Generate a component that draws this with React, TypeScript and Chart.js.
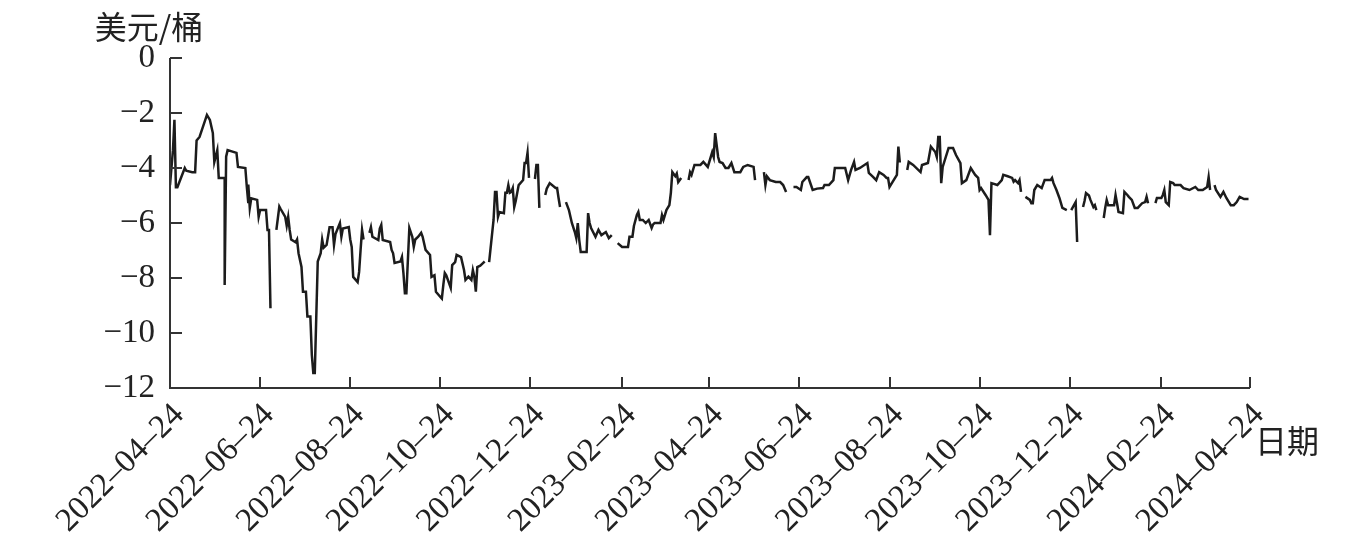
import React, { useEffect, useRef } from 'react';
import { Chart, registerables } from 'chart.js';

Chart.register(...registerables);

// Day offset from 2022-04-24 and the price spread (USD/barrel); null marks a gap in the record
const days: number[] = [
  0, 2, 3, 4, 5, 10, 11, 15, 17, 18, 20, 25, 27, 29, 30, 32, 33, 37, 37, 38, 39, 45, 46, 51, 52, 53, 53, 54, 55, 59, 60, 61, 65, 66, 67, 68, 70,
  72, 74, 75, 78, 79, 80, 81, 82, 85, 86, 87, 89, 90, 92, 93, 95, 96, 97, 98, 100, 102, 103, 104, 106, 108, 110, 111, 112, 115, 116, 117, 121, 122, 123, 124, 127, 128, 129, 130, 131, 133,
  135, 136, 137, 141, 142, 143, 144, 149, 150, 151, 152, 156, 157, 158, 159, 160, 162, 164, 165, 166, 168, 170, 171, 173, 176, 177, 179, 180, 183, 184, 185, 186, 187, 190, 191, 193, 194, 197, 199, 200, 202, 204, 205, 206, 207, 208, 210, 212, 213, 215,
  216, 219, 220, 221, 222, 223, 226, 227, 228, 229, 230, 231, 232, 233, 234, 236, 239, 240, 241, 242, 243, 245,
  247, 248, 249, 250, 252,
  254, 255, 257, 261, 262, 263, 264, 266,
  268, 270, 272, 274, 275, 276, 277, 278, 282, 283, 284, 285, 288, 290, 292, 295, 297, 299, 301,
  303, 306, 310, 311, 313, 314, 316, 317, 318, 320, 322, 324, 326, 327, 328, 332, 333, 334, 336, 338, 339, 340, 342, 343, 344, 346, 348,
  351, 352, 353, 355, 359, 361, 364, 367, 368, 369, 371, 372, 374, 376, 378, 380, 382, 386, 388, 391, 395, 396, 399,
  402, 403, 404, 406, 410, 413, 415, 417, 420,
  422, 424, 427, 428, 431, 432, 435, 438, 442, 443, 446, 449, 450, 451, 457, 459, 461, 463, 464, 467, 472, 473, 476, 478, 480, 483, 485, 486, 487, 489, 492, 493, 494, 497,
  499, 500, 503, 508, 509, 513, 515, 518, 519, 520, 521, 522, 523, 527, 530, 532, 535, 536, 539, 542, 545, 547, 548, 549, 552, 554, 555, 556, 560, 563, 564, 567, 570, 571, 572, 574, 575, 576, 578,
  579, 582, 583, 584, 585, 587, 590, 592, 596, 597, 598, 600, 602, 604, 607, 609,
  610, 613, 614, 616,
  618, 619, 620, 622, 623, 625, 626, 627, 630,
  632, 633, 634, 635, 639, 640, 641, 642, 645, 646, 648, 649, 651, 653, 655, 658, 660, 661, 662, 665,
  667, 668, 671, 672, 673, 674, 676, 677, 679, 680, 684, 686, 690, 694, 696, 699, 702, 703, 704, 706,
  707, 708, 711, 713, 715, 718, 720, 722, 724, 727, 730,
];

const spread: (number | null)[] = [
  -4.62, -3.35, -2.25, -4.7, -4.7, -4.0, -4.1, -4.15, -4.15, -3.0, -2.87, -2.07, -2.25, -2.73, -3.78, -3.35, -4.36, -4.36, -8.25, -3.59, -3.35, -3.45, -3.96, -4.0, -4.69, -5.28, -4.6, -5.45, -5.1, -5.16, -5.78, -5.53, -5.53, -6.25, -6.25, -9.1, null,
  -6.25, -5.4, -5.5, -5.78, -6.1, -5.78, -6.25, -6.6, -6.7, -6.6, -7.1, -7.6, -8.5, -8.5, -9.4, -9.4, -10.8, -11.45, -11.45, -7.4, -7.1, -6.6, -6.9, -6.8, -6.15, -6.15, -6.8, -6.4, -6.0, -6.5, -6.2, -6.15, -6.6, -6.87, -7.96, -8.15, -7.78, -6.98, -6.25, -6.6, null,
  -6.36, -6.15, -6.5, -6.62, -6.2, -6.07, -6.62, -6.69, -6.98, -7.1, -7.45, -7.4, -7.24, -7.82, -8.55, -8.55, -6.18, -6.5, -6.87, -6.6, -6.5, -6.36, -6.5, -6.98, -7.16, -7.96, -7.9, -8.5, -8.69, -8.75, -8.25, -7.82, -7.9, -8.36, -7.53, -7.42, -7.16, -7.24, -7.71, -8.07, -7.95, -8.07, -7.71, -7.95, -8.5, -7.6, -7.55, -7.45, -7.4, null,
  -7.42, -5.89, -4.87, -4.87, -5.78, -5.6, -5.64, -4.9, -4.9, -4.62, -4.9, -4.87, -4.73, -5.42, -5.2, -4.62, -4.44, -3.82, -3.82, -3.45, -4.36, null,
  -4.4, -3.89, -3.89, -5.45, null,
  -4.98, -4.75, -4.55, -4.73, -4.73, -5.09, -5.42, null,
  -5.24, -5.53, -6.0, -6.33, -6.55, -6.0, -6.62, -7.05, -7.05, -5.64, -6.0, -6.18, -6.5, -6.25, -6.44, -6.33, -6.55, -6.44, null,
  -6.73, -6.87, -6.87, -6.5, -6.5, -6.11, -5.71, -5.6, -5.89, -5.89, -6.0, -5.89, -6.18, -6.05, -6.0, -6.0, -5.71, -5.89, -5.53, -5.35, -4.91, -4.15, -4.3, -4.2, -4.51, -4.36, null,
  -4.44, -4.15, -4.25, -3.89, -3.89, -3.78, -3.96, -3.42, -3.6, -2.73, -3.6, -3.78, -3.82, -4.0, -4.0, -3.82, -4.15, -4.15, -3.96, -3.89, -3.96, -4.44, null,
  -4.15, -4.62, -4.3, -4.44, -4.51, -4.51, -4.62, -4.87, null,
  -4.69, -4.69, -4.8, -4.51, -4.33, -4.33, -4.8, -4.75, -4.73, -4.62, -4.62, -4.44, -4.0, -4.0, -4.0, -4.44, -4.07, -3.78, -4.07, -4.0, -3.82, -4.18, -4.33, -4.44, -4.15, -4.25, -4.36, -4.36, -4.69, -4.51, -4.25, -3.22, -3.8, null,
  -4.07, -3.78, -3.89, -4.15, -3.89, -3.82, -3.22, -3.42, -3.6, -2.87, -2.87, -4.55, -3.96, -3.27, -3.27, -3.53, -3.82, -4.55, -4.44, -4.0, -4.25, -4.36, -4.8, -4.73, -4.98, -5.16, -6.44, -4.55, -4.62, -4.44, -4.25, -4.3, -4.36, -4.5, -4.44, -4.55, -4.44, -4.87, null,
  -5.05, -5.16, -5.28, -5.28, -4.8, -4.62, -4.73, -4.44, -4.44, -4.36, -4.55, -4.8, -5.09, -5.45, -5.53, null,
  -5.53, -5.24, -6.69, null,
  -5.42, -5.2, -4.91, -5.0, -5.16, -5.42, -5.35, -5.53, null,
  -5.82, -5.45, -5.16, -5.35, -5.35, -4.98, -5.28, -5.6, -5.64, -4.87, -4.98, -5.05, -5.16, -5.45, -5.45, -5.28, -5.24, -5.05, -5.28, null,
  -5.28, -5.09, -5.09, -4.98, -4.8, -5.24, -5.35, -4.51, -4.55, -4.62, -4.62, -4.73, -4.8, -4.69, -4.8, -4.8, -4.69, -4.33, -4.8, null,
  -4.62, -4.8, -5.05, -4.87, -5.09, -5.35, -5.35, -5.24, -5.05, -5.13, -5.13,
];

const tickDays: number[] = [0, 61, 122, 183, 244, 306, 365, 426, 487, 548, 609, 671, 731];
const tickLabels: string[] = [
  '2022–04–24', '2022–06–24', '2022–08–24', '2022–10–24', '2022–12–24', '2023–02–24', '2023–04–24',
  '2023–06–24', '2023–08–24', '2023–10–24', '2023–12–24', '2024–02–24', '2024–04–24',
];
const yTicks: number[] = [0, -2, -4, -6, -8, -10, -12];
const yTitle = '美元/桶';
const xTitle = '日期';

const SERIF = '"Liberation Serif", "DejaVu Serif", serif';
const CJK = '"Noto Sans CJK SC", sans-serif';

const decor = {
  id: 'decor',
  afterDraw(chart: any) {
    const { ctx, chartArea } = chart;
    const { left, right, top, bottom } = chartArea;
    const xs = chart.scales.x;
    const ys = chart.scales.y;
    ctx.save();
    ctx.strokeStyle = '#333';
    ctx.lineWidth = 2;
    ctx.beginPath();
    ctx.moveTo(left, top);
    ctx.lineTo(left, bottom);
    ctx.lineTo(right, bottom);
    tickDays.forEach((d) => {
      const px = Math.round(xs.getPixelForValue(d));
      ctx.moveTo(px, bottom);
      ctx.lineTo(px, bottom - 11);
    });
    yTicks.forEach((v) => {
      const py = Math.round(ys.getPixelForValue(v));
      ctx.moveTo(left, py);
      ctx.lineTo(left + 12, py);
    });
    ctx.stroke();
    ctx.fillStyle = '#222';
    ctx.font = `32px ${CJK}`;
    ctx.textBaseline = 'middle';
    ctx.textAlign = 'center';
    ctx.fillText(yTitle, 149, 27);
    ctx.fillText(xTitle, 1287, 441);
    ctx.restore();
  },
};

export default function App() {
  const ref = useRef<HTMLCanvasElement | null>(null);
  useEffect(() => {
    if (!ref.current) return;
    const points = days.map((d, i) => ({ x: d, y: spread[i] }));
    const chart = new Chart(ref.current, {
      type: 'line',
      data: {
        datasets: [
          {
            data: points as any,
            borderColor: '#1c1c1c',
            borderWidth: 2.5,
            pointRadius: 0,
            tension: 0,
            spanGaps: false,
          },
        ],
      },
      options: {
        responsive: false,
        animation: false,
        devicePixelRatio: 1,
        layout: { padding: { top: 58, right: 106, left: 0, bottom: 0 } },
        plugins: { legend: { display: false }, tooltip: { enabled: false } },
        scales: {
          x: {
            type: 'linear',
            min: 0,
            max: 731,
            afterBuildTicks: (scale: any) => {
              scale.ticks = tickDays.map((v) => ({ value: v }));
            },
            afterFit: (scale: any) => {
              scale.height = 155;
            },
            grid: { display: false },
            border: { display: false },
            ticks: {
              autoSkip: false,
              maxRotation: 45,
              minRotation: 45,
              padding: 0,
              labelOffset: 9,
              color: '#222',
              font: { family: SERIF, size: 33 },
              callback: (_v: any, i: number) => tickLabels[i],
            },
          },
          y: {
            min: -12,
            max: 0,
            afterBuildTicks: (scale: any) => {
              scale.ticks = yTicks.map((v) => ({ value: v }));
            },
            afterFit: (scale: any) => {
              scale.width = 170;
            },
            grid: { display: false },
            border: { display: false },
            ticks: {
              padding: 7,
              color: '#222',
              font: { family: SERIF, size: 33 },
              callback: (v: any) => (Number(v) < 0 ? '−' + Math.abs(Number(v)) : String(v)),
            },
          },
        },
      },
      plugins: [decor],
    });
    return () => chart.destroy();
  }, []);
  return (
    <div style={{ position: 'absolute', left: 0, top: 0, width: 1356, height: 543, background: '#fff' }}>
      <canvas ref={ref} width={1356} height={543} />
    </div>
  );
}
